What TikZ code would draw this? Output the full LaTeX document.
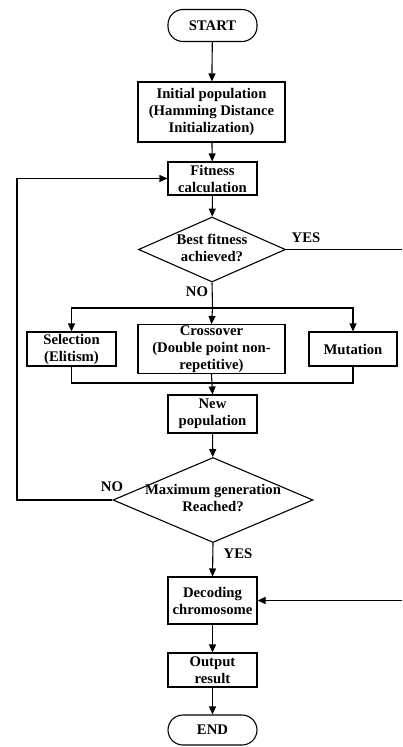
\documentclass[tikz,border=0pt]{standalone}
\usepackage{fontspec}
\setmainfont{Liberation Serif}
\usetikzlibrary{shapes.geometric,arrows.meta}
\tikzset{
  base/.style={draw, line width=1.1pt, align=center, inner sep=1pt,
    font=\fontsize{14.7}{17}\selectfont\bfseries},
  box/.style={base, rectangle, minimum width=89pt, minimum height=34pt},
  term/.style={base, rectangle, rounded corners=15pt, minimum width=89pt, minimum height=32pt},
  dec/.style={base, diamond, inner sep=0pt},
  conn/.style={line width=1.1pt},
  arr/.style={conn, -{Triangle[length=8pt,width=7pt]}},
  lbl/.style={font=\fontsize{14.7}{17}\selectfont\bfseries, inner sep=0pt}
}
\newcommand{\dtext}[1]{\makebox[0pt]{\begin{tabular}{@{}c@{}}#1\end{tabular}}}
\begin{document}
\begin{tikzpicture}[x=1pt,y=-1pt]
\useasboundingbox (0,0) rectangle (402,747);
\node[term] (start) at (212.5,25.5) {START};
\node[box, minimum width=147pt, minimum height=60pt] (init) at (211.5,112) {Initial population\\(Hamming Distance\\Initialization)};
\node[box, minimum height=33pt] (fit) at (212.5,178.5) {Fitness\\calculation};
\node[dec, minimum width=147pt, minimum height=65pt] (d1) at (212,249.5) {\dtext{Best fitness\\achieved?}};
\node[box] (sel) at (71.5,349) {Selection\\(Elitism)};
\node[box, minimum width=147pt, minimum height=48pt] (cross) at (211.5,349) {Crossover\\(Double point non-\\repetitive)};
\node[box, minimum width=88pt] (mut) at (353,349) {Mutation};
\node[box, minimum height=38pt] (newp) at (212.5,414) {New\\population};
\node[dec, minimum width=200pt, minimum height=85pt] (d2) at (213,500) {\dtext{Maximum generation\\Reached?}};
\node[box, minimum height=47pt] (decode) at (212.5,600.5) {Decoding\\chromosome};
\node[box] (out) at (212.5,670) {Output\\result};
\node[term, minimum height=30pt] (end) at (212.5,730) {END};

\coordinate (yesR) at (402,249.5);
\coordinate (split) at (212.5,308);
\coordinate (merge) at (212.5,383);
\coordinate (loopL) at (17,500);
\coordinate (decR) at (402,600.5);

\draw[arr] (start) -- (init);
\draw[arr] (init) -- (fit);
\draw[arr] (fit) -- (d1);
\draw[conn] (d1.east) -- (yesR);
\draw[conn] (d1.south) -- (split);
\draw[arr] (split) -| (sel.north);
\draw[arr] (split) -| (mut.north);
\draw[arr] (split) -- (cross.north);
\draw[conn] (sel.south) |- (merge) -| (mut.south);
\draw[arr] (cross.south) -- (newp.north);
\draw[arr] (newp) -- (d2);
\draw[arr] (d2.west) -- (loopL) |- (fit.west);
\draw[arr] (d2.south) -- (decode.north);
\draw[arr] (decR) -- (decode.east);
\draw[arr] (decode) -- (out);
\draw[arr] (out) -- (end);

\node[lbl] (yes1) at (306,238) {YES};
\node[lbl] (no1) at (197,292) {NO};
\node[lbl] (no2) at (112,487) {NO};
\node[lbl] (yes2) at (238,554) {YES};
\end{tikzpicture}
\end{document}
